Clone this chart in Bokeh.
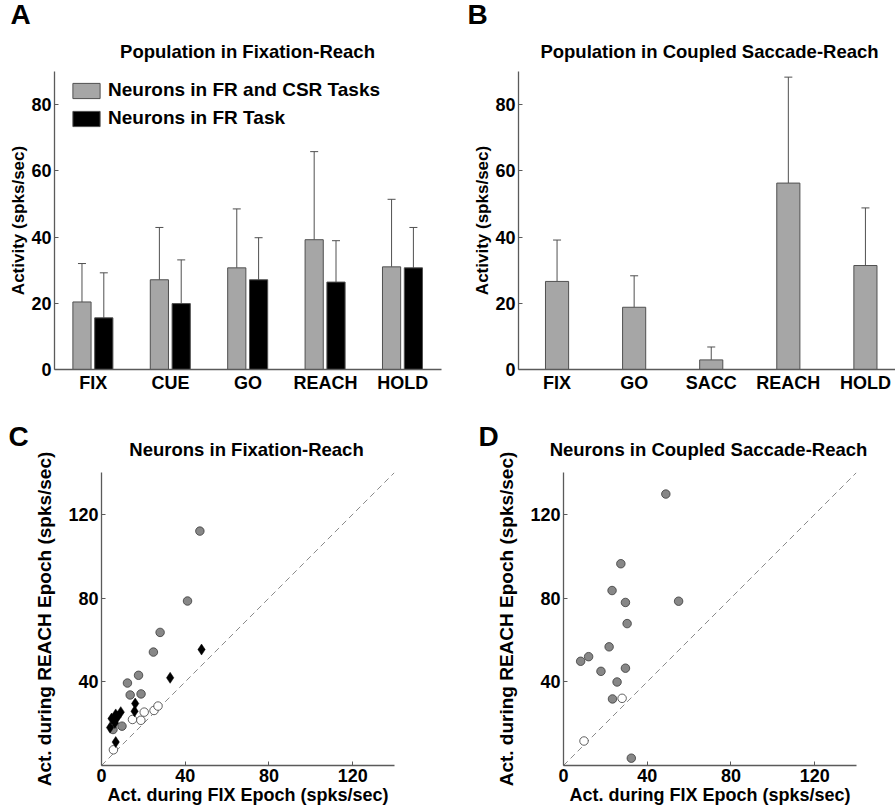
from bokeh.plotting import figure
from bokeh.layouts import column, row
from bokeh.models import (ColumnDataSource, Whisker, TeeHead, FixedTicker, Range1d,
                          Legend, LegendItem, Label)
from bokeh.embed import file_html
from bokeh.resources import INLINE

FONT = "Liberation Sans"

# ---------------- data ----------------
# Panel A: population in Fixation-Reach (mean, upper SD)
epochs_a = ["FIX", "CUE", "GO", "REACH", "HOLD"]
fr_csr_mean = [20.4, 27.1, 30.7, 39.2, 31.0]
fr_csr_sd = [11.6, 15.8, 17.8, 26.6, 20.4]
fr_mean = [15.6, 19.9, 27.1, 26.4, 30.7]
fr_sd = [13.6, 13.2, 12.7, 12.5, 12.2]

# Panel B: population in Coupled Saccade-Reach
epochs_b = ["FIX", "GO", "SACC", "REACH", "HOLD"]
csr_mean = [26.6, 18.8, 2.9, 56.3, 31.4]
csr_sd = [12.5, 9.5, 3.9, 32.0, 17.4]

# Panel C: neurons in Fixation-Reach (FIX vs REACH activity)
c_gray_x = [47.0, 41.1, 28.0, 24.8, 17.7, 12.4, 13.7, 18.9, 9.8, 5.5]
c_gray_y = [112.0, 78.6, 63.6, 54.2, 43.1, 39.4, 33.7, 34.2, 18.8, 17.2]
c_open_x = [5.7, 14.8, 18.8, 20.4, 25.1, 27.0]
c_open_y = [7.5, 22.0, 21.6, 25.5, 26.3, 28.4]
c_dia_x = [47.8, 32.8, 16.1, 15.8, 9.2, 6.8, 4.8, 7.6, 6.4, 4.1, 6.8]
c_dia_y = [55.4, 41.9, 29.6, 25.9, 25.5, 24.4, 22.4, 23.1, 20.3, 18.1, 11.2]

# Panel D: neurons in Coupled Saccade-Reach
d_gray_x = [48.9, 27.4, 23.2, 29.6, 55.0, 30.4, 21.8, 12.0, 8.2, 17.9, 29.6, 25.6, 23.4, 32.4]
d_gray_y = [129.7, 96.4, 83.6, 77.9, 78.5, 67.8, 56.7, 52.0, 49.8, 45.0, 46.5, 39.9, 31.8, 3.5]
d_open_x = [28.0, 9.8]
d_open_y = [32.1, 11.7]

unity = [0, 140]
bar_ticks = [0, 20, 40, 60, 80]
sc_xticks = [0, 40, 80, 120]
sc_yticks = [40, 80, 120]

# ---------------- style ----------------
AX = "#5a5a5a"
BAR_GRAY = "#a6a6a6"
EDGE = "#505050"
DOT_GRAY = "#878787"


def base_fig(w, h, left, right, top, bottom, xr, yr):
    p = figure(width=w, height=h, x_range=xr, y_range=yr, title=None,
               output_backend="svg", toolbar_location=None,
               min_border_left=left, min_border_right=right,
               min_border_top=top, min_border_bottom=bottom)
    p.outline_line_color = None
    p.xgrid.visible = False
    p.ygrid.visible = False
    for ax in (p.xaxis[0], p.yaxis[0]):
        ax.axis_line_color = AX
        ax.axis_line_width = 1.3
        ax.major_tick_line_color = AX
        ax.major_tick_in = 4
        ax.major_tick_out = 0
        ax.minor_tick_line_color = None
        ax.major_label_text_font = FONT
        ax.major_label_text_font_style = "bold"
        ax.major_label_text_font_size = "18px"
        ax.major_label_text_color = "black"
        ax.axis_label_text_font = FONT
        ax.axis_label_text_font_style = "bold"
        ax.axis_label_text_font_size = "18px"
        ax.axis_label_text_color = "black"
        ax.major_label_standoff = 3
    return p


def add_heads(p, title, tx, ty, letter, lx, ly):
    # labels placed in the panel above the plot frame (screen px)
    p.add_layout(Label(x=tx, y=ty, x_units="screen", y_units="screen", text=title,
                       text_align="center", text_baseline="alphabetic", text_font=FONT,
                       text_font_style="bold", text_font_size="18.5px", text_color="black"),
                 "above")
    p.add_layout(Label(x=lx, y=ly, x_units="screen", y_units="screen", text=letter,
                       text_align="left", text_baseline="alphabetic", text_font=FONT,
                       text_font_style="bold", text_font_size="28px", text_color="black"),
                 "above")


def bars(p, xs, means, sds, color, width):
    src = ColumnDataSource(dict(x=xs, top=means, upper=[m + s for m, s in zip(means, sds)]))
    p.add_layout(Whisker(source=src, base="x", upper="upper", lower="top", dimension="height",
                         line_color=EDGE, line_width=1,
                         upper_head=TeeHead(size=8, line_color=EDGE, line_width=1),
                         lower_head=None))
    return p.vbar(x="x", top="top", width=width, source=src, fill_color=color,
                  line_color=EDGE, line_width=1)


# ---------------- Panel A ----------------
pA = base_fig(450, 400, 54, 9, 71, 31, Range1d(0.5, 5.5), Range1d(0, 90))
idx_a = list(range(1, len(epochs_a) + 1))
rA1 = bars(pA, [i - 0.145 for i in idx_a], fr_csr_mean, fr_csr_sd, BAR_GRAY, 0.235)
rA2 = bars(pA, [i + 0.137 for i in idx_a], fr_mean, fr_sd, "black", 0.235)
pA.xaxis.ticker = FixedTicker(ticks=idx_a)
pA.xaxis.major_label_overrides = {i: e for i, e in zip(idx_a, epochs_a)}
pA.xaxis.major_tick_in = 0
pA.yaxis.ticker = FixedTicker(ticks=bar_ticks)
pA.yaxis.axis_label = "Activity (spks/sec)"
pA.yaxis.axis_label_text_font_size = "17px"
pA.yaxis.axis_label_standoff = 0
add_heads(pA, "Population in Fixation-Reach", 193, 20, "A", -44, 36)
leg = Legend(items=[LegendItem(label="Neurons in FR and CSR Tasks", renderers=[rA1]),
                    LegendItem(label="Neurons in FR Task", renderers=[rA2])],
             location=(15, 240), padding=0, margin=0, spacing=6,
             glyph_width=34, glyph_height=19, label_height=19, label_standoff=5,
             label_text_font=FONT, label_text_font_style="bold", label_text_font_size="19px",
             label_text_color="black",
             border_line_alpha=0, background_fill_alpha=0)
pA.add_layout(leg, "center")

# ---------------- Panel B ----------------
pB = base_fig(445, 400, 68, 0, 71, 31, Range1d(0.5, 5.39), Range1d(0, 90))
idx_b = list(range(1, len(epochs_b) + 1))
bars(pB, idx_b, csr_mean, csr_sd, BAR_GRAY, 0.30)
pB.xaxis.ticker = FixedTicker(ticks=idx_b)
pB.xaxis.major_label_overrides = {i: e for i, e in zip(idx_b, epochs_b)}
pB.xaxis.major_tick_in = 0
pB.yaxis.ticker = FixedTicker(ticks=bar_ticks)
pB.yaxis.axis_label = "Activity (spks/sec)"
pB.yaxis.axis_label_text_font_size = "17px"
pB.yaxis.axis_label_standoff = 0
add_heads(pB, "Population in Coupled Saccade-Reach", 191, 20, "B", -51, 36)


# ---------------- Panels C, D ----------------
def scatter_fig(w, left, right):
    p = base_fig(w, 409, left, right, 72, 44, Range1d(0, 140), Range1d(0, 140))
    p.xaxis.ticker = FixedTicker(ticks=sc_xticks)
    p.yaxis.ticker = FixedTicker(ticks=sc_yticks)
    p.xaxis.axis_label = "Act. during FIX Epoch (spks/sec)"
    p.yaxis.axis_label = "Act. during REACH Epoch (spks/sec)"
    p.yaxis.axis_label_text_font_size = "19px"
    p.xaxis.axis_label_standoff = 0
    p.yaxis.axis_label_standoff = 10
    p.line(unity, unity, line_color="#8a8a8a", line_width=1, line_dash="6 4")
    return p


pC = scatter_fig(450, 101, 56)
add_heads(pC, "Neurons in Fixation-Reach", 145, 23, "C", -93, 15)
pC.scatter(c_gray_x, c_gray_y, marker="circle", size=8.5, fill_color=DOT_GRAY,
           line_color="#3a3a3a", line_width=0.8)
pC.scatter(c_open_x, c_open_y, marker="circle", size=8.5, fill_color="white",
           line_color="#3a3a3a", line_width=0.8)
pC.scatter(c_dia_x, c_dia_y, marker="diamond", size=11, fill_color="black",
           line_color="black", line_width=0.5)

pD = scatter_fig(445, 113, 39)
add_heads(pD, "Neurons in Coupled Saccade-Reach", 145, 23, "D", -85, 15)
pD.scatter(d_gray_x, d_gray_y, marker="circle", size=8.5, fill_color=DOT_GRAY,
           line_color="#3a3a3a", line_width=0.8)
pD.scatter(d_open_x, d_open_y, marker="circle", size=8.5, fill_color="white",
           line_color="#3a3a3a", line_width=0.8)

layout = column(row(pA, pB, spacing=0), row(pC, pD, spacing=0), spacing=0)

open("out.html", "w").write(file_html(layout, INLINE))
